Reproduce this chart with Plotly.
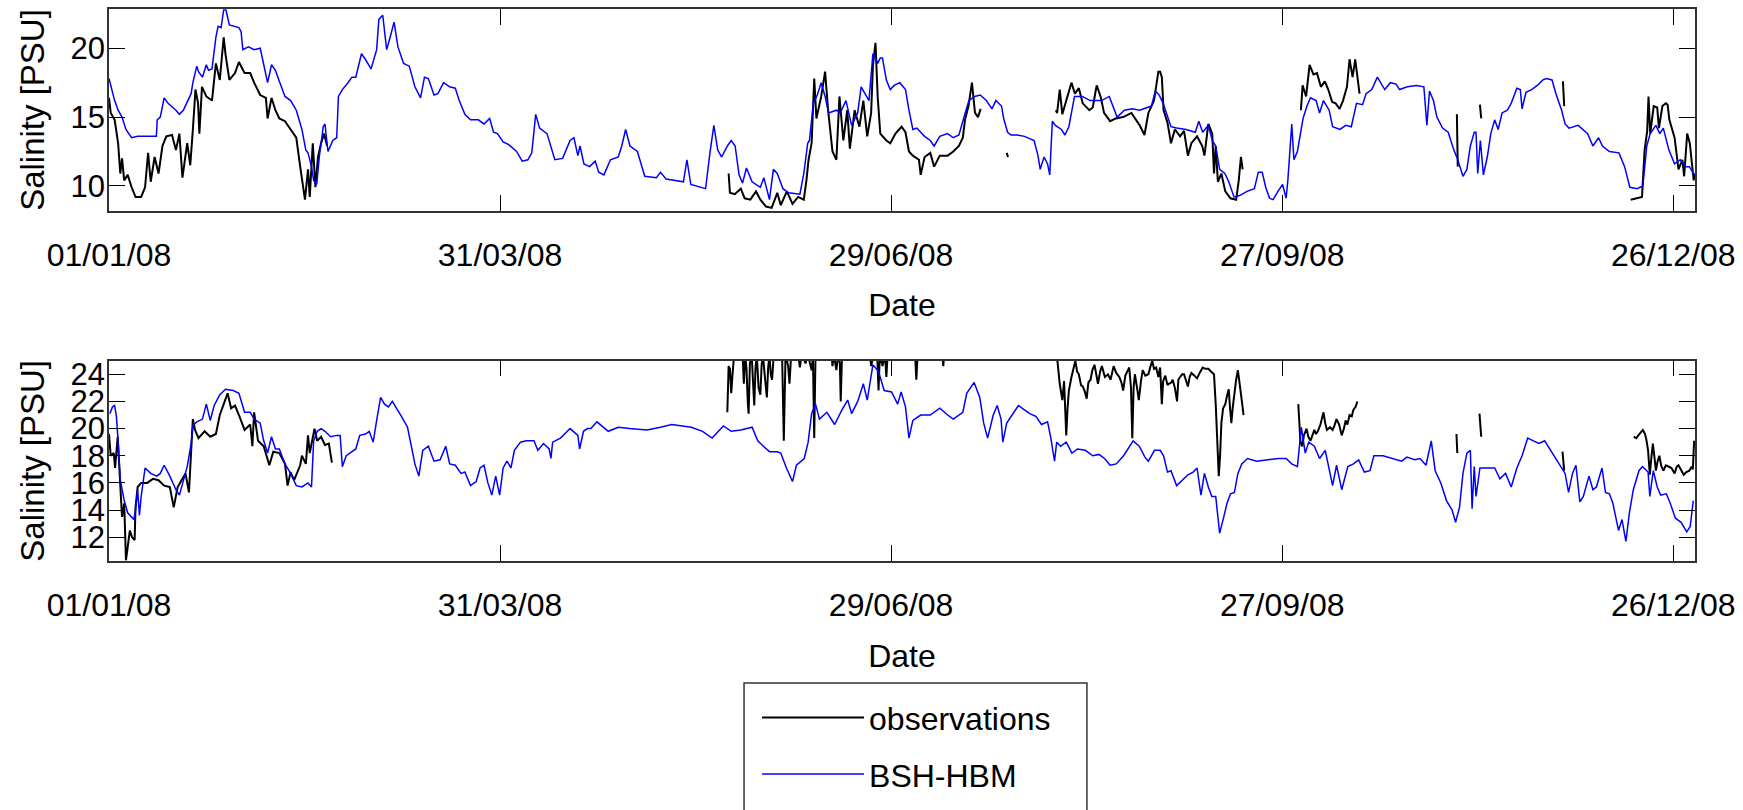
import pandas as pd
import plotly.graph_objects as go

# ---------------- data (day offset from 01/01/2008, salinity PSU) ----------------
START_DATE = "2008-01-01"
END_DATE = "2008-12-31"
TICK_DATES = ["2008-01-01", "2008-03-31", "2008-06-29", "2008-09-27", "2008-12-26"]
SERIES_NAMES = ["observations", "BSH-HBM"]

# Upper station - model (BSH-HBM)
top_model = [
    (0, 17.8), (1.3, 16.2), (2.1, 15.5), (3.0, 15.0), (3.9, 14.1), (5.2, 13.5), (6.6, 13.6), (8.3, 13.6),
    (10.9, 13.6), (11.1, 14.8), (11.8, 15.0), (12.7, 16.4), (13.6, 16.0), (15.4, 15.5), (16.2, 15.2),
    (17.1, 15.5), (18.4, 16.4), (18.9, 16.7), (19.3, 17.5), (20.2, 18.7), (20.6, 18.3), (21.5, 17.9),
    (22.4, 18.8), (22.9, 18.4), (23.7, 18.5), (24.6, 20.8), (25.1, 21.6), (25.8, 21.5), (26.4, 22.8),
    (26.9, 22.8), (27.7, 21.7), (29.0, 21.6), (29.9, 21.5), (30.4, 21.2), (30.8, 19.9), (32.1, 20.1),
    (33.4, 19.9), (34.8, 20.0), (35.6, 18.8), (36.5, 17.5), (37.4, 18.8), (38.3, 18.4), (39.2, 17.6),
    (40.5, 16.5), (41.8, 16.2), (43.1, 15.5), (44.4, 14.1), (45.3, 12.6), (45.8, 12.4), (46.2, 11.9),
    (46.6, 11.4), (47.1, 10.4), (47.8, 10.1), (48.4, 12.1), (49.3, 14.3), (49.7, 14.5), (50.4, 12.5),
    (51.5, 13.3), (52.4, 13.5), (52.8, 16.5), (53.7, 17.0), (55.0, 17.5), (55.9, 17.9), (56.8, 17.9),
    (58.1, 19.6), (59.0, 19.2), (60.3, 18.5), (61.6, 19.9), (62.1, 22.1), (63.0, 22.4), (63.9, 19.9),
    (64.7, 20.8), (65.6, 21.9), (66.5, 20.1), (67.8, 18.9), (69.1, 18.7), (70.4, 17.2), (71.7, 16.4),
    (72.6, 17.9), (73.5, 17.8), (74.8, 16.6), (75.7, 16.7), (77.0, 17.5), (78.4, 17.2), (79.7, 17.1),
    (80.6, 16.2), (81.9, 15.2), (83.2, 14.8), (85.0, 14.8), (86.3, 14.5), (87.6, 14.9), (88.5, 13.9),
    (89.4, 13.8), (90.7, 13.2), (92.0, 13.0), (93.8, 12.5), (95.1, 11.8), (96.4, 11.9), (97.3, 12.4),
    (98.2, 15.2), (99.1, 14.2), (100.8, 13.8), (101.7, 12.9), (102.6, 11.9), (104.4, 12.0), (106.1, 13.3),
    (107.0, 13.5), (107.9, 12.2), (108.4, 12.9), (109.3, 11.6), (110.6, 11.4), (111.9, 11.8), (112.7, 11.0),
    (113.9, 10.8), (115.4, 11.9), (117.2, 12.1), (118.0, 12.9), (118.9, 14.1), (119.9, 12.9), (121.6, 12.5),
    (123.3, 10.7), (126.0, 10.6), (126.9, 11.0), (128.2, 10.5), (132.2, 10.3), (133.0, 11.9), (133.9, 10.1),
    (137.3, 9.8), (138.3, 12.4), (139.2, 14.4), (140.1, 12.6), (141.0, 12.1), (142.3, 12.9), (143.2, 13.3),
    (144.1, 12.9), (145.0, 10.8), (145.8, 10.2), (146.7, 11.3), (148.0, 10.3), (149.9, 9.9), (150.7, 10.6),
    (152.0, 9.0), (152.9, 11.2), (153.8, 10.9), (155.1, 9.8), (156.4, 9.5), (159.0, 9.4), (159.9, 10.9),
    (160.8, 13.1), (161.2, 13.3), (162.1, 16.0), (163.0, 16.6), (163.9, 17.5), (164.8, 16.5), (165.6, 15.3),
    (166.5, 15.4), (167.4, 15.5), (168.3, 15.3), (169.6, 16.2), (170.9, 14.4), (172.3, 15.3), (173.1, 17.2),
    (174.0, 16.7), (174.9, 16.2), (175.8, 19.6), (176.2, 19.5), (176.9, 18.9), (177.5, 19.3), (178.0, 19.3),
    (178.9, 17.7), (179.8, 17.0), (180.7, 17.3), (182.0, 17.5), (183.3, 17.0), (184.1, 15.5), (185.0, 14.1),
    (185.9, 14.2), (187.7, 13.6), (189.0, 13.3), (189.9, 12.9), (191.2, 13.6), (193.0, 13.8), (194.3, 13.5),
    (195.6, 13.7), (196.5, 14.7), (197.9, 16.2), (199.2, 16.5), (200.5, 16.6), (201.9, 16.2), (203.2, 15.6),
    (204.1, 16.2), (205.4, 15.8), (205.9, 14.9), (206.8, 13.9), (207.6, 13.7), (209.0, 13.7), (210.7, 13.6),
    (212.9, 13.3), (213.8, 12.2), (214.3, 11.2), (215.2, 12.1), (216.0, 11.6), (216.5, 10.8), (217.1, 14.7),
    (217.8, 14.4), (219.2, 14.1), (220.0, 13.7), (220.9, 14.3), (222.2, 16.5), (224.0, 16.5), (225.8, 16.2),
    (228.4, 16.2), (230.2, 16.5), (232.0, 15.0), (233.7, 15.5), (235.5, 15.6), (237.2, 15.5), (239.9, 15.8),
    (240.8, 16.9), (241.7, 16.6), (242.6, 16.0), (243.4, 15.2), (244.4, 14.3), (245.7, 14.2), (247.9, 14.1),
    (250.0, 13.9), (250.8, 14.7), (251.7, 13.9), (253.0, 14.4), (253.9, 13.3), (254.7, 12.9), (255.6, 11.2),
    (256.8, 10.9), (257.7, 10.3), (258.9, 9.2), (260.2, 9.3), (261.9, 9.6), (263.6, 9.8), (264.5, 11.0),
    (265.4, 11.0), (266.2, 9.9), (267.1, 9.1), (267.9, 9.0), (269.2, 9.7), (270.1, 10.1), (270.9, 9.1),
    (271.3, 10.4), (272.2, 14.5), (272.7, 11.9), (273.5, 12.5), (274.4, 14.3), (274.8, 14.9), (275.7, 15.8),
    (276.5, 16.4), (277.8, 16.2), (278.6, 15.3), (279.5, 16.2), (280.8, 15.5), (281.6, 14.3), (283.3, 14.1),
    (284.6, 14.4), (285.9, 14.3), (287.1, 16.0), (288.5, 15.9), (289.3, 16.7), (290.6, 17.0), (291.9, 17.9),
    (293.6, 17.0), (294.9, 17.5), (296.2, 17.4), (297.0, 17.0), (298.8, 17.2), (300.9, 17.3), (302.6, 17.2),
    (303.3, 14.4), (303.9, 16.9), (304.8, 16.2), (305.6, 15.0), (306.9, 14.2), (308.2, 13.9), (309.5, 12.6),
    (310.3, 12.0), (311.6, 10.7), (312.5, 11.2), (313.3, 12.9), (314.2, 13.9), (314.6, 13.9), (315.0, 10.9),
    (315.6, 13.3), (316.3, 10.8), (317.2, 12.1), (318.0, 13.8), (318.9, 14.8), (319.7, 14.1), (320.6, 15.3),
    (321.8, 15.5), (322.7, 16.0), (324.0, 17.1), (324.8, 17.0), (325.2, 15.6), (326.1, 16.8), (327.4, 17.0),
    (328.7, 17.3), (330.0, 17.7), (330.8, 17.8), (332.1, 17.7), (333.0, 16.7), (334.3, 15.5), (335.1, 14.5),
    (336.0, 14.2), (338.1, 14.4), (340.3, 13.8), (341.5, 12.9), (342.8, 13.5), (343.7, 12.9), (345.3, 12.5),
    (347.5, 12.4), (348.8, 11.4), (350.0, 9.9), (351.7, 9.8), (353.0, 10.0), (353.9, 12.9), (354.7, 13.8),
    (356.0, 14.4), (356.9, 13.8), (357.7, 14.2), (359.0, 12.6), (360.3, 11.6), (361.6, 11.9), (362.8, 11.4),
    (363.7, 11.4), (364.9, 10.8),
]

# Upper station - observations (None = gap in record)
top_obs = [
    (0.0, 16.4), (0.4, 15.3), (1.3, 14.8), (2.1, 13.1), (2.6, 10.9), (3.0, 12.0), (3.5, 10.4), (4.3, 10.8),
    (5.2, 9.9), (6.1, 9.2), (7.4, 9.2), (8.3, 9.9), (9.0, 12.4), (9.6, 10.3), (10.5, 12.1), (11.4, 10.9),
    (12.3, 12.9), (13.2, 13.6), (14.5, 13.7), (15.4, 12.6), (16.2, 13.8), (16.9, 10.6), (18.0, 13.1),
    (18.7, 11.5), (19.3, 14.1), (19.9, 17.0), (20.5, 16.0), (20.8, 13.8), (21.4, 17.2), (22.4, 16.5),
    (23.7, 16.2), (24.6, 18.9), (25.5, 17.7), (26.4, 20.8), (26.8, 19.6), (27.7, 17.7), (29.0, 18.2),
    (29.9, 19.0), (31.2, 18.2), (32.5, 18.2), (33.4, 17.5), (34.8, 16.6), (36.1, 16.4), (36.5, 14.9),
    (37.4, 16.4), (38.3, 15.5), (39.2, 14.9), (40.5, 14.7), (41.8, 14.1), (43.1, 13.5), (44.0, 11.4),
    (44.6, 9.9), (45.1, 9.0), (45.8, 11.2), (46.2, 9.2), (46.9, 13.1), (47.5, 9.9), (48.1, 12.1),
    (48.8, 13.1), (49.5, 13.8), (50.2, 12.9), (51.0, None),
    (142.6, 10.9), (142.9, 9.5), (144.0, 9.4), (145.4, 9.8), (146.3, 9.1), (147.6, 9.0), (148.9, 9.6),
    (149.9, 9.0), (151.2, 8.5), (152.5, 8.4), (153.8, 9.5), (154.6, 8.6), (156.0, 9.6), (157.3, 8.7),
    (158.6, 9.2), (159.9, 9.0), (160.5, 10.4), (161.0, 11.9), (161.7, 13.1), (162.3, 17.8), (162.8, 14.9),
    (163.9, 16.5), (164.8, 18.3), (165.5, 15.5), (166.5, 12.5), (167.4, 11.9), (168.1, 16.5), (169.0, 13.3),
    (169.9, 15.5), (170.5, 12.7), (171.6, 15.5), (172.7, 14.3), (173.6, 16.2), (174.5, 13.6), (175.4, 15.3),
    (175.8, 18.7), (176.4, 20.4), (176.9, 16.5), (177.5, 13.8), (178.9, 13.3), (179.8, 13.1), (181.0, 13.8),
    (182.4, 14.3), (183.3, 13.9), (184.1, 12.5), (185.0, 12.2), (186.4, 11.9), (186.8, 10.8), (187.7, 12.1),
    (189.0, 12.4), (189.9, 11.4), (191.2, 12.2), (193.0, 12.2), (194.3, 12.5), (195.6, 12.9), (196.5, 13.5),
    (197.0, 14.8), (197.8, 15.8), (198.6, 17.5), (199.3, 15.3), (200.0, 15.0), (200.6, 15.6), (201.0, None),
    (206.6, 12.4), (206.9, 12.1), (207.2, None),
    (217.9, 15.5), (218.2, 15.3), (218.8, 17.0), (219.4, 15.2), (220.3, 16.2), (221.5, 17.5), (222.3, 16.7),
    (223.2, 17.1), (224.1, 16.0), (225.6, 15.5), (226.4, 15.7), (227.3, 17.3), (228.2, 16.5), (229.0, 15.3),
    (230.4, 14.7), (231.7, 14.9), (233.4, 15.0), (235.3, 15.3), (237.2, 14.4), (238.3, 13.7), (239.2, 15.3),
    (240.5, 16.2), (241.5, 18.3), (241.9, 18.3), (242.3, 17.9), (242.7, 15.5), (243.6, 14.6), (244.4, 13.1),
    (245.3, 14.1), (246.5, 13.6), (247.4, 14.0), (248.3, 12.2), (249.1, 13.1), (250.4, 13.6), (251.6, 12.9),
    (252.1, 12.2), (253.0, 14.5), (253.9, 13.8), (254.3, 10.9), (254.7, 12.9), (255.2, 10.3), (256.0, 10.9),
    (256.9, 9.6), (258.1, 9.1), (259.4, 9.0), (260.0, 10.4), (260.5, 12.1), (260.9, 11.2), (261.3, None),
    (274.3, 15.5), (274.7, 17.3), (275.5, 16.5), (276.3, 18.8), (277.2, 18.1), (278.0, 18.2), (278.9, 17.2),
    (279.8, 17.6), (280.6, 17.0), (281.5, 16.1), (282.3, 16.0), (283.2, 15.6), (284.0, 16.2), (284.9, 17.2),
    (285.5, 19.2), (286.2, 17.9), (286.8, 19.2), (287.4, 17.5), (287.8, 16.7), (288.2, None),
    (310.2, 15.2), (310.4, 11.4), (310.6, None),
    (315.5, 15.9), (315.8, 14.9), (316.0, None),
    (334.6, 17.6), (334.9, 15.8), (335.1, None),
    (350.2, 9.0), (351.5, 9.1), (352.8, 9.2), (353.4, 12.6), (354.0, 14.0), (354.3, 16.5), (354.7, 13.8),
    (355.5, 15.8), (356.3, 15.7), (356.7, 14.2), (357.5, 15.8), (358.3, 16.0), (358.7, 15.9), (359.1, 14.8),
    (360.3, 13.5), (361.2, 11.2), (362.1, 11.9), (362.5, 10.7), (363.2, 13.8), (363.8, 13.1), (364.7, 10.4),
    (364.9, 10.9),
]

# Lower station - model (BSH-HBM)
bottom_model = [
    (0.2, 21.1), (0.8, 21.6), (1.3, 21.7), (1.7, 20.9), (2.1, 19.1), (2.6, 16.2), (3.5, 14.7), (4.3, 13.8),
    (5.7, 13.3), (6.1, 14.0), (6.6, 15.5), (7.0, 13.6), (7.4, 15.0), (8.3, 17.1), (9.6, 16.7), (11.0, 16.5),
    (11.8, 16.7), (12.7, 17.3), (14.0, 16.5), (15.4, 15.5), (16.2, 15.1), (17.1, 16.2), (18.0, 17.2),
    (18.9, 18.9), (19.3, 20.2), (20.2, 20.5), (21.5, 20.7), (22.4, 21.8), (23.3, 20.6), (24.2, 21.7),
    (25.5, 22.5), (26.8, 22.9), (28.6, 22.8), (29.9, 22.6), (31.2, 21.2), (32.5, 21.2), (33.4, 20.7),
    (34.8, 20.4), (35.6, 19.1), (36.5, 18.2), (37.4, 19.4), (38.3, 18.5), (39.2, 18.5), (40.5, 17.4),
    (41.8, 16.7), (43.1, 15.8), (44.4, 15.7), (45.8, 16.0), (46.6, 15.7), (47.1, 19.1), (47.9, 19.8),
    (48.8, 20.0), (49.7, 19.8), (51.0, 19.4), (52.4, 19.5), (53.2, 19.5), (53.7, 17.2), (54.6, 18.0),
    (55.5, 18.2), (56.8, 18.5), (57.7, 19.5), (59.0, 19.6), (59.9, 19.8), (60.8, 19.0), (61.6, 20.6),
    (62.5, 22.3), (63.4, 21.8), (64.3, 21.6), (65.2, 22.0), (66.0, 21.6), (67.3, 20.9), (68.7, 20.1),
    (69.5, 18.9), (70.4, 17.4), (71.3, 16.5), (72.2, 18.4), (73.5, 18.7), (74.8, 17.6), (76.2, 17.7),
    (77.5, 18.7), (78.4, 17.4), (79.7, 17.3), (81.0, 16.7), (81.9, 16.8), (83.2, 15.8), (84.5, 16.1),
    (85.4, 17.1), (86.3, 17.3), (87.2, 16.0), (88.1, 15.1), (89.0, 16.5), (89.9, 15.1), (90.7, 17.1),
    (91.6, 17.6), (92.5, 17.1), (93.3, 18.4), (94.7, 19.0), (96.0, 19.1), (97.8, 19.1), (98.7, 18.4),
    (100.0, 18.9), (101.3, 18.5), (101.7, 17.8), (102.1, 19.0), (103.9, 19.3), (106.1, 20.0), (107.9, 19.5),
    (108.3, 18.5), (109.2, 19.8), (110.1, 20.0), (110.9, 20.0), (112.3, 20.5), (114.9, 19.8), (117.2, 20.1),
    (119.8, 20.0), (123.8, 19.9), (126.9, 20.1), (129.5, 20.3), (134.0, 20.1), (136.6, 19.8), (138.8, 19.3),
    (141.4, 20.2), (143.2, 19.8), (145.4, 19.9), (148.0, 20.1), (149.3, 19.1), (150.6, 18.7), (152.0, 18.3),
    (153.8, 18.3), (154.6, 18.2), (155.9, 17.1), (156.8, 16.5), (157.3, 16.1), (158.2, 17.3), (160.0, 17.8),
    (160.9, 19.0), (161.7, 21.1), (162.6, 21.8), (163.5, 20.7), (165.2, 21.2), (167.0, 20.3), (168.7, 21.4),
    (170.0, 22.1), (170.9, 21.1), (172.3, 22.0), (173.6, 23.3), (174.5, 22.1), (175.8, 24.7), (177.1, 24.2),
    (178.4, 22.8), (180.1, 22.7), (181.5, 21.8), (182.3, 22.7), (183.3, 21.6), (184.1, 19.3), (185.0, 20.6),
    (186.8, 21.0), (189.0, 21.0), (191.2, 21.5), (193.0, 21.0), (194.3, 20.7), (196.5, 21.2), (197.4, 22.6),
    (199.1, 23.4), (200.4, 22.3), (201.3, 20.4), (202.2, 19.3), (203.5, 21.0), (204.4, 21.7), (205.3, 20.7),
    (205.7, 19.0), (206.6, 20.4), (207.9, 21.0), (209.3, 21.7), (210.6, 21.4), (211.9, 21.1), (213.3, 20.9),
    (214.6, 20.3), (216.0, 20.5), (216.7, 19.4), (217.6, 17.6), (218.1, 19.0), (219.0, 18.7), (220.3, 19.0),
    (221.6, 18.2), (222.9, 18.5), (224.7, 18.4), (226.4, 18.0), (227.8, 18.1), (229.1, 17.8), (230.4, 17.3),
    (231.8, 17.4), (233.5, 18.0), (234.9, 18.7), (235.7, 19.1), (237.1, 18.7), (238.4, 17.9), (239.2, 17.6),
    (240.6, 18.4), (241.9, 18.4), (242.7, 18.0), (243.6, 16.8), (244.4, 16.9), (245.7, 15.8), (247.0, 16.2),
    (248.3, 16.6), (249.5, 16.8), (250.4, 17.1), (251.3, 15.1), (252.1, 16.7), (253.0, 15.7), (253.8, 15.0),
    (254.7, 15.0), (255.6, 12.3), (256.4, 13.3), (257.3, 14.5), (258.1, 15.2), (259.0, 15.3), (259.8, 16.7),
    (260.7, 17.4), (262.0, 17.8), (264.1, 17.6), (266.7, 17.7), (269.2, 17.8), (270.9, 17.8), (272.2, 17.4),
    (273.5, 17.2), (274.4, 20.1), (275.3, 18.2), (276.1, 19.0), (277.4, 18.7), (278.6, 17.8), (279.9, 18.4),
    (281.6, 15.8), (282.5, 17.3), (283.7, 15.5), (285.1, 17.2), (286.4, 17.4), (287.6, 17.7), (288.9, 16.8),
    (290.2, 16.9), (291.1, 18.0), (293.2, 18.0), (295.3, 17.8), (297.5, 17.6), (298.7, 17.9), (300.5, 17.7),
    (301.7, 17.8), (303.1, 17.3), (304.3, 19.1), (305.2, 16.9), (306.5, 16.0), (307.8, 14.7), (309.1, 14.0),
    (309.9, 13.1), (310.8, 14.2), (311.6, 16.7), (312.5, 18.2), (313.3, 18.4), (313.7, 14.1), (314.2, 17.2),
    (314.6, 15.0), (315.5, 17.1), (317.2, 17.1), (318.9, 17.1), (320.1, 16.3), (321.4, 16.7), (322.7, 15.7),
    (324.0, 17.1), (325.2, 18.0), (326.5, 19.3), (327.8, 19.1), (329.1, 18.9), (330.4, 19.1), (331.6, 18.5),
    (332.9, 17.8), (334.2, 17.2), (335.1, 16.7), (335.9, 15.3), (336.8, 16.7), (337.6, 17.3), (338.5, 14.6),
    (339.3, 15.0), (340.6, 16.5), (341.5, 15.5), (342.3, 15.7), (343.6, 17.1), (344.4, 15.3), (345.3, 15.2),
    (346.1, 14.5), (347.4, 12.5), (348.2, 13.3), (349.1, 11.7), (349.9, 13.8), (350.8, 15.5), (352.1, 16.9),
    (352.9, 17.2), (354.2, 16.8), (354.6, 15.0), (355.4, 16.9), (356.3, 15.7), (357.1, 15.1), (358.4, 15.2),
    (359.3, 14.5), (360.5, 13.4), (361.8, 13.1), (363.1, 12.4), (363.9, 12.8), (364.6, 14.7),
]

# Lower station - observations (values above 25 run off the top of the panel)
bottom_obs = [
    (0.0, 19.6), (0.4, 18.0), (1.1, 18.2), (1.4, 17.1), (2.0, 19.4), (2.3, 17.9), (2.7, 15.2), (3.0, 13.5),
    (3.5, 14.5), (3.9, 10.3), (4.3, 11.5), (4.8, 12.5), (5.3, 12.0), (5.9, 11.8), (6.1, 14.2), (6.6, 15.7),
    (7.4, 16.0), (8.8, 16.0), (10.1, 16.3), (11.4, 16.2), (12.7, 15.8), (14.0, 15.7), (14.9, 14.2),
    (15.8, 15.7), (16.7, 16.2), (17.6, 16.7), (18.4, 15.3), (18.9, 18.9), (19.3, 20.7), (19.8, 19.9),
    (20.6, 19.3), (22.0, 19.8), (23.3, 19.4), (24.6, 19.6), (25.5, 21.0), (26.4, 21.8), (27.3, 22.6),
    (28.1, 21.5), (29.0, 21.7), (29.9, 21.0), (31.2, 19.9), (32.5, 20.3), (33.0, 18.7), (33.4, 21.2),
    (34.3, 19.1), (35.6, 18.7), (36.9, 17.3), (37.8, 18.3), (39.2, 18.2), (40.5, 17.4), (41.1, 15.8),
    (41.8, 16.8), (42.6, 16.2), (44.0, 17.3), (44.4, 18.0), (45.3, 17.4), (45.8, 19.5), (46.2, 18.2),
    (46.6, 18.9), (47.3, 20.0), (47.9, 19.1), (48.8, 19.4), (49.7, 18.8), (50.6, 18.9), (51.3, 17.5),
    (51.6, None),
    (142.3, 21.2), (142.6, 24.6), (142.9, 24.4), (143.2, 22.6), (143.5, 24.0), (143.9, 25.6), (145.8, 25.6),
    (146.1, 23.3), (146.4, 25.4), (146.7, 24.5), (147.0, 22.0), (147.2, 21.1), (147.5, 24.8), (147.9, 25.5),
    (148.2, 23.5), (148.5, 21.7), (148.8, 24.6), (149.1, 25.3), (149.5, 23.0), (149.9, 22.5), (150.2, 24.7),
    (150.5, 25.4), (151.0, 23.6), (151.4, 22.3), (151.7, 24.5), (152.0, 25.4), (152.3, 24.0), (152.6, 23.6),
    (153.0, 25.5), (154.9, 25.5), (155.3, 19.1), (155.7, 25.5), (156.3, 24.6), (156.6, 23.3), (157.0, 25.5),
    (158.6, 25.5), (159.0, 24.5), (159.4, 25.5), (160.3, 24.8), (160.8, 25.5), (161.7, 24.3), (162.0, 25.3),
    (162.3, 19.3), (162.6, 25.5), (166.3, 25.5), (166.5, 24.6), (166.8, 25.5), (167.4, 24.3), (167.8, 25.5),
    (168.2, 24.8), (168.4, 22.0), (168.7, 25.5), (175.1, 25.5), (175.4, 24.6), (176.0, 25.5), (176.8, 25.3),
    (177.1, 22.8), (177.4, 25.5), (178.0, 24.6), (178.6, 25.4), (178.9, 23.8), (179.2, 25.5), (179.5, None),
    (185.5, 25.5), (185.8, 23.6), (186.1, 25.5), (186.4, None),
    (191.8, 25.5), (192.0, 24.6), (192.2, 25.5), (192.5, None),
    (218.0, 25.5), (218.3, 24.9), (218.8, 23.3), (219.4, 22.1), (219.8, 23.5), (220.3, 19.5), (220.6, 21.5),
    (220.9, 22.8), (221.5, 23.8), (222.0, 24.6), (222.4, 25.0), (222.8, 24.2), (223.2, 24.0), (223.7, 23.2),
    (224.1, 23.1), (224.6, 22.7), (225.0, 22.2), (225.4, 23.4), (225.9, 23.6), (226.3, 24.3), (226.8, 24.7),
    (227.2, 24.0), (227.6, 23.3), (228.1, 24.2), (228.5, 24.6), (229.2, 23.8), (229.9, 24.0), (230.5, 23.6),
    (231.2, 24.6), (231.8, 24.1), (232.5, 23.8), (233.0, 23.4), (233.4, 22.8), (233.9, 23.9), (234.4, 24.2),
    (234.8, 24.5), (235.2, 23.0), (235.5, 19.3), (235.8, 23.0), (236.1, 24.0), (236.6, 23.0), (237.0, 22.1),
    (237.5, 23.5), (237.9, 24.3), (238.5, 23.9), (239.2, 24.0), (239.7, 24.6), (240.1, 25.0), (240.5, 24.4),
    (241.0, 24.5), (241.5, 23.8), (241.9, 24.5), (242.3, 21.8), (242.6, 23.5), (243.1, 23.9), (243.6, 23.2),
    (243.9, 23.3), (244.5, 23.4), (244.8, 23.6), (245.3, 23.0), (245.8, 22.0), (246.1, 23.6), (246.5, 23.8),
    (247.0, 24.0), (247.4, 24.0), (247.9, 23.5), (248.3, 23.1), (248.7, 23.8), (249.1, 24.1), (249.8, 23.9),
    (250.4, 23.7), (251.0, 24.1), (251.7, 24.5), (252.3, 24.4), (253.0, 24.4), (253.6, 24.2), (254.3, 24.0),
    (254.7, 21.8), (255.1, 18.5), (255.4, 16.5), (255.7, 18.0), (256.0, 20.4), (256.4, 21.5), (256.9, 21.8),
    (257.3, 22.4), (257.7, 22.9), (258.0, 21.5), (258.3, 20.4), (258.6, 21.5), (259.0, 22.6), (259.4, 23.6),
    (259.8, 24.3), (260.1, 23.6), (260.5, 22.8), (260.8, 21.8), (261.1, 21.0), (261.4, None),
    (273.7, 21.8), (274.0, 20.0), (274.2, 19.0), (274.6, 18.7), (275.0, 19.5), (275.6, 20.0), (276.0, 19.4),
    (276.5, 19.1), (277.0, 19.6), (277.4, 19.9), (277.8, 19.6), (278.2, 19.8), (278.8, 20.3), (279.5, 21.2),
    (279.9, 20.4), (280.3, 19.9), (281.0, 20.1), (281.6, 19.9), (282.0, 20.2), (282.5, 20.7), (283.1, 20.3),
    (283.7, 19.5), (284.2, 20.0), (284.6, 20.6), (285.0, 20.3), (285.5, 21.0), (286.0, 20.9), (286.4, 21.4),
    (286.9, 21.6), (287.3, 22.0), (287.6, None),
    (310.1, 19.6), (310.3, 18.2), (310.5, None),
    (315.4, 21.1), (315.6, 20.2), (315.8, 19.4), (316.0, None),
    (334.5, 18.3), (334.9, 16.9), (335.1, None),
    (350.9, 19.4), (351.5, 19.3), (352.2, 19.6), (353.0, 19.9), (353.5, 19.6), (353.8, 19.2), (354.2, 18.4),
    (354.6, 16.6), (355.0, 18.0), (355.3, 18.9), (355.7, 17.8), (356.0, 16.9), (356.4, 17.6), (356.8, 18.0),
    (357.2, 17.3), (357.7, 16.9), (358.3, 17.3), (358.9, 17.2), (359.6, 17.1), (360.3, 16.7), (360.8, 17.2),
    (361.2, 17.3), (361.8, 17.0), (362.4, 16.6), (363.0, 16.8), (363.7, 16.9), (364.2, 17.2), (364.5, 17.0),
    (364.8, 19.1),
]

TOP_YRANGE = [8.2, 22.83]
BOTTOM_YRANGE = [10.25, 25.0]

# ---------------- helpers ----------------
base = pd.Timestamp(START_DATE)


def split(points):
    days = [p[0] for p in points]
    vals = [p[1] for p in points]
    dates = [base + pd.Timedelta(days=d) for d in days]
    return dates, vals


fig = go.Figure()

panels = [
    (top_obs, top_model, "x", "y", True),
    (bottom_obs, bottom_model, "x2", "y2", False),
]
for obs, model, xa, ya, show in panels:
    ox, oy = split(obs)
    mx, my = split(model)
    fig.add_trace(go.Scatter(x=ox, y=oy, mode="lines", name=SERIES_NAMES[0], legendgroup="obs",
                             showlegend=show, connectgaps=False,
                             line=dict(color="black", width=2), xaxis=xa, yaxis=ya))
    fig.add_trace(go.Scatter(x=mx, y=my, mode="lines", name=SERIES_NAMES[1], legendgroup="model",
                             showlegend=show,
                             line=dict(color="#0000ff", width=1.5), xaxis=xa, yaxis=ya))

FONT = "Liberation Sans, Arial, sans-serif"
common_x = dict(
    type="date", range=[START_DATE, END_DATE], tickvals=TICK_DATES, tickformat="%d/%m/%y",
    ticks="inside", ticklen=16, tickwidth=1, tickcolor="black",
    showline=True, linecolor="#333333", linewidth=1.5, mirror="ticks",
    showgrid=False, zeroline=False, ticklabelstandoff=15, automargin=False,
    tickfont=dict(size=32, family=FONT, color="black"),
    title=dict(text="Date", font=dict(size=32, family=FONT, color="black"), standoff=22),
)
common_y = dict(
    ticks="inside", ticklen=16, tickwidth=1, tickcolor="black",
    showline=True, linecolor="#333333", linewidth=1.5, mirror="ticks",
    showgrid=False, zeroline=False, ticklabelstandoff=-4, automargin=False,
    tickfont=dict(size=31, family=FONT, color="black"),
    title=dict(text="Salinity [PSU]", font=dict(size=33, family=FONT, color="black"), standoff=16),
)

fig.update_layout(
    width=1743, height=810,
    margin=dict(l=109, r=48, t=0, b=0),
    plot_bgcolor="white", paper_bgcolor="white",
    font=dict(family=FONT, size=32, color="black"),
    xaxis=dict(common_x, anchor="y", domain=[0, 1]),
    yaxis=dict(common_y, anchor="x", domain=[0.7399, 0.9885], range=TOP_YRANGE, tick0=0, dtick=5),
    xaxis2=dict(common_x, anchor="y2", domain=[0, 1]),
    yaxis2=dict(common_y, anchor="x2", domain=[0.3074, 0.5547], range=BOTTOM_YRANGE, tick0=0, dtick=2),
    legend=dict(
        x=0.4004, y=0.148, xanchor="left", yanchor="top",
        borderwidth=0, bgcolor="rgba(0,0,0,0)",
        font=dict(size=32, family=FONT, color="black"),
        itemwidth=102, tracegroupgap=12, indentation=13,
    ),
    # legend frame (runs past the lower edge of the figure, as in the original)
    shapes=[dict(type="rect", xref="paper", yref="paper", x0=0.4004, x1=0.6166, y0=-0.02, y1=0.1568,
                 line=dict(color="#333333", width=1.5), fillcolor="rgba(0,0,0,0)", layer="below")],
    showlegend=True,
)

fig.write_html("out.html", config={"displayModeBar": False},
               post_script="document.body.style.margin='0px';document.body.style.padding='0px';")
